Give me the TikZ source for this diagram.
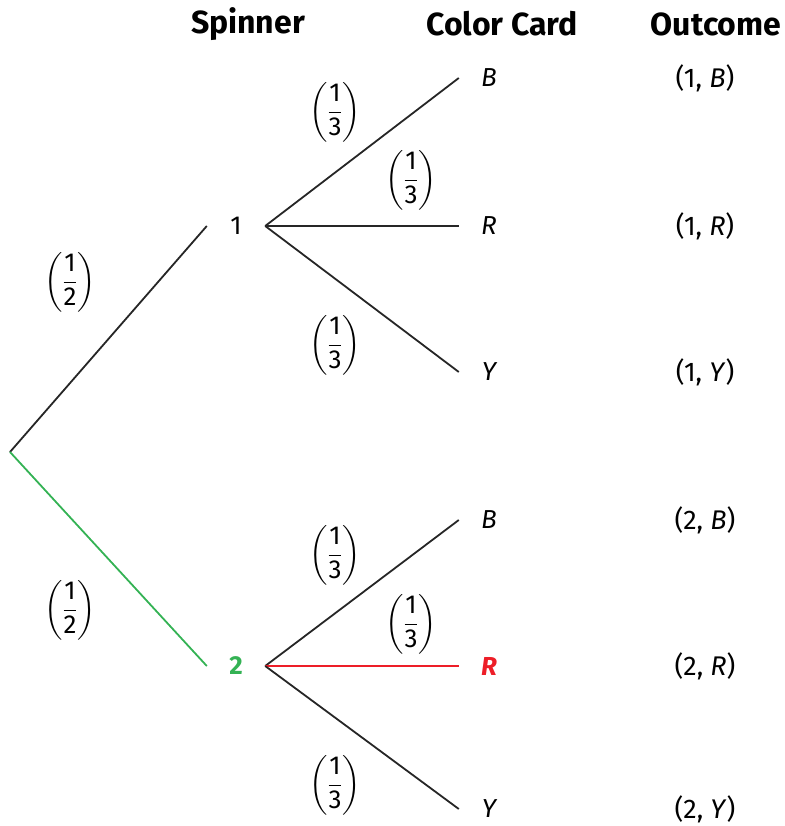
\documentclass[tikz,border=0pt]{standalone}
\usepackage{amsmath}
\usepackage{fontspec}
\setmainfont{Fira Sans}
\definecolor{spingreen}{RGB}{52,178,84}
\definecolor{cardred}{RGB}{237,30,40}
\newcommand{\prob}[2]{$\left(\dfrac{\text{#1}}{\text{#2}}\right)$}
\tikzset{
  head/.style={font=\fontsize{32}{36}\selectfont\bfseries},
  spin/.style={font=\fontsize{26}{30}\selectfont, inner sep=0pt, minimum width=58pt},
  card/.style={font=\fontsize{26}{30}\selectfont\itshape, inner sep=0pt, minimum width=60pt},
  outc/.style={font=\fontsize{27}{30}\selectfont},
  pr/.style={font=\fontsize{26}{30}\selectfont, inner sep=0pt},
  branch/.style={line width=1.8pt, black!85},
}
\begin{document}
\begin{tikzpicture}[x=1pt,y=-1pt]
\useasboundingbox (0,0) rectangle (784,826);
% headings
\node[head] at (248,24) {Spinner};
\node[head] at (502,24) {Color Card};
\node[head] at (716,24) {Outcome};
% tree
\coordinate (root) at (10,452);
\node[spin] (one) at (236,226) {1};
\node[spin, text=spingreen, font=\fontsize{26}{30}\selectfont\bfseries] (two) at (236,666) {2};
\node[card] (b1) at (489,78) {B};
\node[card] (r1) at (489,226) {R};
\node[card] (y1) at (489,372) {Y};
\node[card] (b2) at (489,520) {B};
\node[card, text=cardred, font=\fontsize{26}{30}\selectfont\bfseries\itshape] (r2) at (489,666) {R};
\node[card] (y2) at (489,809) {Y};
\draw[branch] (root) -- (one.west);
\draw[branch, spingreen] (root) -- (two.west);
\foreach \leaf in {b1,r1,y1}
  \draw[branch] (one.east) -- (\leaf.west);
\draw[branch] (two.east) -- (b2.west);
\draw[branch, cardred] (two.east) -- (r2.west);
\draw[branch] (two.east) -- (y2.west);
% probabilities
\node[pr] (p1) at (70,282) {\prob{1}{2}};
\node[pr] (p2) at (70,610) {\prob{1}{2}};
\node[pr] (p11) at (335,112) {\prob{1}{3}};
\node[pr] (p12) at (411,180) {\prob{1}{3}};
\node[pr] (p13) at (335,345) {\prob{1}{3}};
\node[pr] (p21) at (335,555) {\prob{1}{3}};
\node[pr] (p22) at (411,624) {\prob{1}{3}};
\node[pr] (p23) at (335,785) {\prob{1}{3}};
% outcomes
\node[outc] at (705,78) {(1, \textit{B})};
\node[outc] at (705,226) {(1, \textit{R})};
\node[outc] at (705,372) {(1, \textit{Y})};
\node[outc] at (705,520) {(2, \textit{B})};
\node[outc] at (705,666) {(2, \textit{R})};
\node[outc] at (705,809) {(2, \textit{Y})};
\end{tikzpicture}
\end{document}
